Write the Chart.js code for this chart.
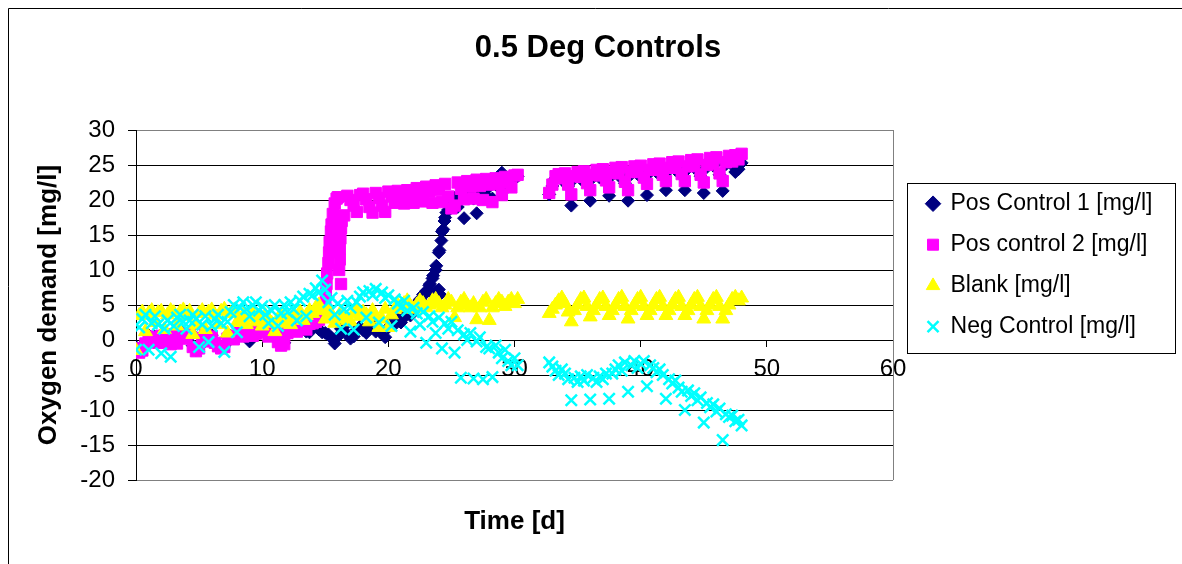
<!DOCTYPE html>
<html>
<head>
<meta charset="utf-8">
<title>0.5 Deg Controls</title>
<script src="https://cdn.jsdelivr.net/npm/chart.js@4.4.1/dist/chart.umd.min.js"></script>
<style>
  html, body { margin: 0; padding: 0; background: #fff; }
  canvas { display: block; }
</style>
</head>
<body>
<canvas id="myChart" width="1182" height="564"></canvas>
<script>
// Datos (tiempo en dias, demanda de oxigeno en mg/l)
const chartTitle = '0.5 Deg Controls'
const xTitle = 'Time [d]'
const yTitle = 'Oxygen demand [mg/l]'
const seriesLabels = ['Pos Control 1 [mg/l]', 'Pos control 2 [mg/l]', 'Blank [mg/l]', 'Neg Control [mg/l]']

const days = [
  0, 0.25, 0.5, 0.75, 1, 1.25, 1.5, 1.75,
  2, 2.25, 2.5, 2.75, 3, 3.25, 3.5, 3.75,
  4, 4.25, 4.5, 4.75, 5, 5.25, 5.5, 5.75,
  6, 6.25, 6.5, 6.75, 7, 7.25, 7.5, 7.75,
  8, 8.25, 8.5, 8.75, 9, 9.25, 9.5, 9.75,
  10, 10.25, 10.5, 10.75, 11, 11.25, 11.5, 11.75,
  12, 12.25, 12.5, 12.75, 13, 13.25, 13.5, 13.75,
  14, 14.25, 14.5, 14.75, 15, 15.25, 15.5, 15.75,
  16, 16.25, 16.5, 16.75, 17, 17.25, 17.5, 17.75,
  18, 18.25, 18.5, 18.75, 19, 19.25, 19.5, 19.75,
  20, 20.25, 20.5, 20.75, 21, 21.25, 21.5, 21.75,
  22, 22.25, 22.5, 22.75, 23, 23.25, 23.5, 23.75,
  24, 24.25, 24.5, 24.75, 25, 25.25, 25.5, 25.75,
  26, 26.25, 26.5, 26.75, 27, 27.25, 27.5, 27.75,
  28, 28.25, 28.5, 28.75, 29, 29.25, 29.5, 29.75,
  30, 30.25,
  32.75, 33, 33.25, 33.5, 33.75,
  34, 34.25, 34.5, 34.75, 35, 35.25, 35.5, 35.75,
  36, 36.25, 36.5, 36.75, 37, 37.25, 37.5, 37.75,
  38, 38.25, 38.5, 38.75, 39, 39.25, 39.5, 39.75,
  40, 40.25, 40.5, 40.75, 41, 41.25, 41.5, 41.75,
  42, 42.25, 42.5, 42.75, 43, 43.25, 43.5, 43.75,
  44, 44.25, 44.5, 44.75, 45, 45.25, 45.5, 45.75,
  46, 46.25, 46.5, 46.75, 47, 47.25, 47.5, 47.75,
  48,
]

const pos1 = [
  -1.0, -1.5, -1.2, -0.3, 0.7, 0.0, 0.5, -0.2,
  0.8, -0.1, 0.4, -0.4, 1.0, -0.3, 0.6, 1.1,
  0.4, 1.2, -0.8, -1.4, -1.0, 0.5, 1.0, 0.0,
  0.7, -0.2, -0.7, -1.0, -0.8, 0.4, 0.6, 0.3,
  0.8, 1.4, 0.7, 1.2, -0.2, 0.8, 1.1, 1.5,
  1.8, 1.3, 0.7, 2.0, 1.0, -0.1, -0.6, -0.4,
  1.2, 1.8, 2.4, 1.4, 2.2, 2.6, 1.2, 1.1,
  1.8, 2.2, 1.5, 1.1, 1.0, 0.8, 0.3, -0.5,
  0.5, 1.6, 2.0, 0.8, 0.2, 0.5, 1.5, 1.9,
  1.4, 1.0, 1.8, 2.1, 1.2, 1.5, 0.9, 0.4,
  1.8, 2.6, 2.2, 3.0, 2.5, 3.2, 4.0, 3.5,
  4.5, 5.2, 5.8, 6.5, 7.0, 7.8, 8.8, 10.0,
  12.5, 15.5, 17.5, 18.6, 19.5, 20.3, 19.0, 20.6,
  17.4, 20.8, 21.5, 20.2, 18.1, 21.0, 21.8, 20.6,
  21.9, 20.2, 22.5, 21.8, 23.9, 22.8, 21.9, 23.0,
  23.0, 23.4,
  20.8, 22.0, 23.1, 23.4, 22.9,
  23.5, 22.0, 19.2, 23.1, 23.7, 23.0, 23.8, 22.2,
  19.9, 23.3, 24.0, 23.2, 24.1, 22.6, 20.6, 23.6,
  24.3, 23.5, 24.4, 22.4, 19.9, 23.7, 24.5, 23.7,
  24.6, 23.0, 20.7, 24.0, 24.8, 24.0, 24.9, 23.4,
  21.4, 24.3, 25.1, 24.3, 25.2, 23.5, 21.4, 24.5,
  25.4, 24.6, 25.5, 23.4, 21.0, 24.7, 25.7, 24.9,
  25.8, 23.6, 21.3, 25.1, 26.0, 25.0, 24.0, 24.4,
  25.3,
]
// subida rapida de Pos Control 1
const pos1RiseDays = [22.6, 22.9, 23.3, 23.5, 23.55, 23.8, 23.8, 24.0, 24.05, 24.1, 24.2, 24.35, 24.45, 24.6]
const pos1Rise = [5.6, 6.6, 8.0, 6.6, 9.2, 6.8, 10.6, 7.2, 12.8, 6.5, 14.2, 15.8, 17.0, 18.2]

const pos2 = [
  -1.2, -1.8, -1.5, -0.5, 0.5, -0.2, 0.3, -0.4,
  0.6, -0.3, 0.2, -0.6, 0.8, -0.5, 0.4, 0.9,
  0.2, 1.0, -1.0, -1.6, -1.2, 0.3, 0.8, -0.2,
  0.5, -0.4, -0.9, -1.2, -1.0, 0.2, 0.4, 0.1,
  0.6, 1.2, 0.5, 1.0, 1.4, 0.6, 0.9, 1.3,
  1.6, 1.1, 0.5, 1.8, 0.8, -0.3, -0.8, -0.6,
  1.0, 1.6, 2.2, 1.2, 2.0, 2.4, 1.5, 2.3,
  2.4, 2.6, 2.9, 3.3, 5.0, 11.0, 16.5, 19.5,
  20.4, 8.0, 17.8, 20.6, 20.0, 19.2, 18.3, 20.7,
  20.9, 20.1, 19.0, 18.2, 21.0, 20.3, 19.2, 18.3,
  21.2, 20.5, 19.6, 21.3, 20.6, 19.5, 21.4, 20.8,
  19.6, 21.7, 21.0, 19.8, 21.9, 21.2, 19.6, 22.1,
  21.4, 19.7, 22.3, 20.5, 18.8, 19.2, 22.5, 21.6,
  20.1, 22.7, 21.9, 20.2, 22.9, 22.0, 20.0, 23.0,
  22.2, 19.7, 23.1, 22.3, 20.7, 23.3, 22.5, 21.8,
  23.5, 23.6,
  21.0, 22.2, 23.4, 23.7, 23.1,
  23.8, 22.2, 20.8, 23.4, 24.0, 23.3, 24.1, 22.4,
  21.4, 23.6, 24.3, 23.5, 24.4, 22.8, 21.8, 23.9,
  24.6, 23.8, 24.7, 22.6, 21.4, 24.0, 24.8, 24.0,
  24.9, 23.2, 22.3, 24.3, 25.1, 24.3, 25.2, 23.6,
  22.7, 24.6, 25.4, 24.6, 25.5, 23.7, 22.7, 24.8,
  25.7, 24.9, 25.8, 23.6, 22.5, 25.0, 26.0, 25.2,
  26.1, 23.8, 22.7, 25.4, 26.3, 25.5, 26.4, 25.8,
  26.6,
]
// subida rapida de Pos control 2
const pos2RiseDays = [14.9, 15.05, 15.1, 15.15, 15.3, 15.35, 15.45, 15.6, 15.9, 16.1, 16.15, 16.15, 16.2, 16.25, 16.3]
const pos2Rise = [3.6, 6.5, 8.0, 9.5, 12.5, 14.0, 15.5, 18.0, 20.2, 10.0, 11.5, 13.0, 14.5, 16.0, 17.0]

const blank = [
  -1.5, 3.5, 4.0, 1.2, 3.8, 4.2, 2.5, 3.9,
  4.1, 1.5, 3.6, 4.2, 3.9, 2.0, 4.0, 4.3,
  3.4, 4.1, 0.8, 2.2, 3.8, 4.2, 1.5, 4.0,
  4.3, 3.6, 2.2, 4.1, 4.4, 1.0, 3.8, 4.2,
  2.5, 3.0, 3.6, 2.2, 3.2, 3.8, 2.6, 3.4,
  2.0, 3.5, 3.0, 2.4, 1.2, 3.0, 3.6, 2.4,
  3.0, 2.2, 3.6, 3.2, 4.0, 2.8, 3.5, 4.2,
  3.8, 4.6, 5.0, 4.2, 3.0, 4.4, 3.6, 2.4,
  3.0, 4.0, 3.5, 2.8, 2.6, 3.8, 4.4, 3.4,
  4.0, 3.6, 2.6, 4.2, 3.4, 1.8, 3.0, 4.4,
  1.8, 3.6, 4.4, 5.0, 4.6, 5.2, 5.6, 4.8,
  4.4, 5.0, 5.6, 5.2, 4.6, 5.0, 5.6, 5.8,
  5.2, 4.6, 5.0, 5.8, 5.4, 3.2, 4.6, 5.4,
  5.8, 5.0, 4.6, 5.2, 2.9, 4.6, 5.4, 5.8,
  2.8, 4.6, 5.2, 5.8, 5.4, 4.8, 5.4, 5.8,
  5.2, 5.8,
  3.8, 4.4, 5.0, 5.6, 6.0,
  5.2, 4.0, 2.6, 4.2, 5.0, 5.8, 6.0, 4.8,
  3.3, 4.2, 5.0, 5.8, 6.0, 4.8, 3.5, 4.2,
  5.0, 5.8, 6.1, 4.8, 3.0, 4.2, 5.0, 5.8,
  6.1, 4.8, 3.5, 4.2, 5.0, 5.8, 6.1, 4.8,
  3.5, 4.2, 5.0, 5.8, 6.1, 4.8, 3.5, 4.2,
  5.0, 5.8, 6.1, 4.8, 3.0, 4.2, 5.0, 5.8,
  6.1, 4.8, 3.0, 4.2, 5.0, 5.8, 6.1, 5.6,
  6.0,
]

const neg = [
  -1.4, 1.8, 3.0, 3.6, -1.4, 2.4, 3.4, 2.2,
  -1.9, 1.6, 2.8, -2.4, 2.0, 3.2, 3.6, 2.6,
  1.6, 2.8, 3.6, 3.0, -1.0, 2.2, 3.4, -0.3,
  2.0, 3.0, 3.6, 2.4, -1.7, 2.6, 4.0, 5.0,
  1.1, 4.6, 5.4, 4.4, 3.4, 5.0, 5.4, 4.2,
  4.8, 3.6, 2.4, 4.2, 5.0, 2.0, 3.8, 5.0,
  4.0, 5.4, 4.4, 2.8, 5.6, 6.2, 3.4, 6.6,
  6.4, 7.4, 6.8, 8.5, 7.2, 5.4, 6.0, 3.6,
  5.2, 1.6, 4.4, 5.6, 4.6, 1.5, 5.4, 6.2,
  6.8, 3.2, 7.0, 6.4, 7.3, 2.5, 6.8, 6.0,
  6.4, 2.0, 5.8, 5.2, 4.6, 5.6, 4.2, 1.2,
  4.6, 3.8, 2.2, 4.0, -0.4, 3.4, 2.6, 1.0,
  3.2, -1.2, 2.4, 1.6, 2.6, -1.8, 1.4, -5.4,
  0.8, 0.0, 1.0, -5.5, -0.2, 0.4, -5.6, -1.0,
  -1.2, -5.3, -0.8, -1.8, -2.6, -1.4, -3.0, -3.6,
  -2.6, -3.6,
  -3.2, -3.8, -4.4, -5.0, -4.2,
  -4.8, -5.6, -8.6, -5.4, -6.0, -5.2, -5.8, -5.0,
  -8.5, -5.4, -6.0, -5.2, -5.6, -4.8, -8.4, -4.8,
  -4.2, -3.6, -4.4, -3.2, -7.4, -3.6, -3.0, -4.0,
  -3.4, -3.0, -6.6, -3.6, -4.0, -4.6, -4.2, -5.0,
  -8.4, -5.6, -6.2, -5.8, -6.8, -7.4, -10.0, -7.2,
  -8.0, -7.6, -8.6, -8.2, -11.8, -9.0, -9.6, -9.2,
  -10.2, -9.8, -14.3, -10.6, -11.0, -10.8, -11.6, -11.4,
  -12.2,
]

const xTicks = { min: 0, max: 60, step: 10 }
const yTicks = { min: -20, max: 30, step: 5 }

const toPoints = (xs, ys) => xs.map((x, i) => ({ x: x, y: ys[i] }))

// marco exterior, borde derecho del area de trazado y recuadro de la leyenda (estilo Excel)
const chartFrame = {
  id: 'chartFrame',
  afterLayout(chart) {
    // separa la leyenda del area de trazado
    chart.legend.left += 16
    chart.legend.right += 16
  },
  beforeDatasetsDraw(chart) {
    const { ctx, chartArea } = chart
    const x = Math.round(chartArea.right) + 0.5
    ctx.save()
    ctx.strokeStyle = '#808080'
    ctx.lineWidth = 1
    ctx.beginPath()
    ctx.moveTo(x, Math.round(chartArea.top))
    ctx.lineTo(x, Math.round(chartArea.bottom))
    ctx.stroke()
    ctx.restore()
  },
  afterDraw(chart) {
    const { ctx, legend, chartArea } = chart
    ctx.save()
    ctx.strokeStyle = '#000'
    ctx.lineWidth = 1
    ctx.beginPath()
    ctx.moveTo(8.5, chart.height)
    ctx.lineTo(8.5, 8.5)
    ctx.lineTo(chart.width, 8.5)
    ctx.stroke()
    ctx.strokeRect(Math.round(legend.left) - 1.5, Math.round(chartArea.top) + 53.5, 268, 170)
    ctx.restore()
  },
}

Chart.defaults.font.family = 'Arial, "Liberation Sans", Helvetica, sans-serif'
Chart.defaults.color = '#000'

const ctx = document.getElementById('myChart').getContext('2d')
const myChart = new Chart(ctx, {
  type: 'scatter',
  data: {
    datasets: [
      {
        label: seriesLabels[0],
        data: toPoints(days, pos1).concat(toPoints(pos1RiseDays, pos1Rise)),
        pointStyle: 'rectRot',
        pointRadius: 6.5,
        backgroundColor: '#000080',
        borderColor: '#000080',
        borderWidth: 1,
        order: 4,
      },
      {
        label: seriesLabels[1],
        data: toPoints(days, pos2).concat(toPoints(pos2RiseDays, pos2Rise)),
        pointStyle: 'rect',
        pointRadius: 8,
        backgroundColor: '#FF00FF',
        borderColor: '#FF00FF',
        borderWidth: 1,
        order: 3,
      },
      {
        label: seriesLabels[2],
        data: toPoints(days, blank),
        pointStyle: 'triangle',
        pointRadius: 8,
        backgroundColor: '#FFFF00',
        borderColor: '#FFFF00',
        borderWidth: 1,
        order: 2,
      },
      {
        label: seriesLabels[3],
        data: toPoints(days, neg),
        pointStyle: 'crossRot',
        pointRadius: 8,
        backgroundColor: '#00FFFF',
        borderColor: '#00FFFF',
        borderWidth: 2.5,
        order: 1,
      },
    ],
  },
  options: {
    responsive: false,
    animation: false,
    events: [],
    layout: {
      padding: { top: 8, left: 49.5, right: 35.5, bottom: 0 },
    },
    scales: {
      x: {
        type: 'linear',
        position: { y: 0 },
        min: xTicks.min,
        max: xTicks.max,
        ticks: { stepSize: xTicks.step, padding: 9, maxRotation: 0, font: { size: 24 } },
        grid: { drawOnChartArea: false, tickLength: 6, color: '#000' },
        border: { color: '#000', width: 1 },
      },
      y: {
        type: 'linear',
        position: 'left',
        min: yTicks.min,
        max: yTicks.max,
        ticks: { stepSize: yTicks.step, padding: 13, font: { size: 24 } },
        grid: {
          color: (c) => (c.tick && (c.tick.value === yTicks.max || c.tick.value === yTicks.min) ? '#808080' : '#000'),
          tickColor: '#000',
          tickLength: 8,
        },
        border: { color: '#000', width: 1 },
        title: {
          display: true,
          text: yTitle,
          font: { size: 26, weight: 'bold' },
          padding: { top: -16, bottom: 0 },
        },
        afterFit(scale) {
          scale.width = 86.5
        },
      },
    },
    plugins: {
      title: {
        display: true,
        text: chartTitle,
        font: { size: 31, weight: 'bold' },
        padding: { top: 22, bottom: 62.8 },
      },
      subtitle: {
        display: true,
        position: 'bottom',
        fullSize: false,
        text: xTitle,
        font: { size: 26, weight: 'bold' },
        padding: { top: 26.4, bottom: 26.4 },
      },
      legend: {
        position: 'right',
        align: 'start',
        fullSize: false,
        reverse: true,
        title: { display: true, text: ' ', font: { size: 1 }, padding: { top: 43, bottom: 0 } },
        labels: {
          usePointStyle: true,
          boxWidth: 12,
          boxHeight: 11,
          padding: 18,
          font: { size: 23 },
        },
      },
      tooltip: { enabled: false },
    },
  },
  plugins: [chartFrame],
})
</script>
</body>
</html>
